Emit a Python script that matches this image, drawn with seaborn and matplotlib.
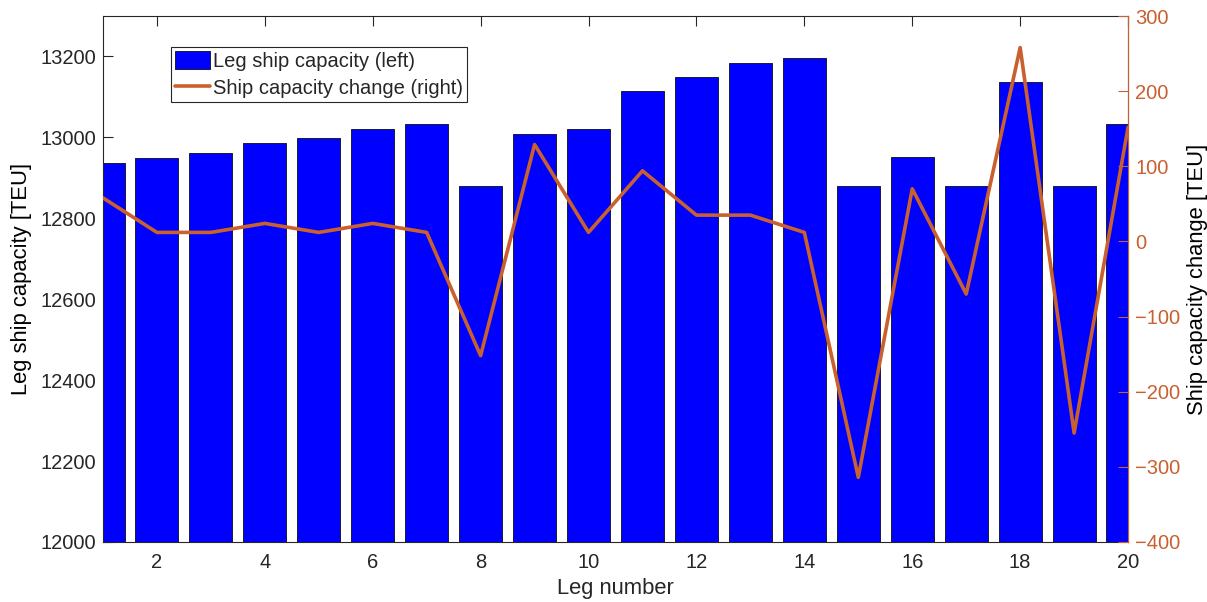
import matplotlib
matplotlib.use("Agg")
import matplotlib.pyplot as plt
import seaborn as sns
import pandas as pd
from matplotlib.patches import Patch
from matplotlib.lines import Line2D

# Leg-by-leg data
legs = list(range(1, 21))
leg_capacity = [12936, 12950, 12962, 12985, 12998, 13020, 13032, 12879, 13008, 13020,
                13115, 13149, 13185, 13197, 12879, 12951, 12879, 13137, 12879, 13032]
capacity_change = [58, 12, 12, 24, 12, 24, 12, -152, 129, 12,
                   94, 35, 35, 12, -314, 70, -70, 258, -255, 152]

left_ticks = [12000, 12200, 12400, 12600, 12800, 13000, 13200]
right_ticks = [-400, -300, -200, -100, 0, 100, 200, 300]
x_ticks = [2, 4, 6, 8, 10, 12, 14, 16, 18, 20]

bar_color = "#0000FF"
line_color = "#C8602F"
axis_color = "#262626"

sns.set_style("white")
plt.rcParams["font.family"] = ["Liberation Sans", "DejaVu Sans"]
fs = 14.5
lfs = 15.8

df = pd.DataFrame({"leg": legs, "capacity": leg_capacity, "change": capacity_change})

fig = plt.figure(figsize=(12.07, 6.02), dpi=100)
ax = fig.add_axes([0.0853, 0.0997, 0.8493, 0.8737])

sns.barplot(data=df, x="leg", y="capacity", native_scale=True, width=0.8,
            color=bar_color, saturation=1, edgecolor="#1a1a3a", linewidth=0.7, ax=ax)
ax.set_xlim(1, 20)
ax.set_ylim(12000, 13300)
ax.set_xticks(x_ticks)
ax.set_yticks(left_ticks)
ax.set_xlabel("Leg number", fontsize=lfs, color=axis_color, labelpad=4)
ax.set_ylabel("Leg ship capacity [TEU]", fontsize=lfs, color="black", labelpad=6)
ax.tick_params(axis="both", direction="in", labelsize=fs, colors=axis_color,
               length=7.5, width=0.8)
ax.tick_params(axis="x", pad=8, top=True)
ax.tick_params(axis="y", pad=5)
for side in ["left", "bottom", "top"]:
    ax.spines[side].set_color(axis_color)
    ax.spines[side].set_linewidth(0.8)

ax2 = ax.twinx()
sns.lineplot(data=df, x="leg", y="change", color=line_color, linewidth=2.6, ax=ax2)
ax2.set_ylim(-400, 300)
ax2.set_yticks(right_ticks)
ax2.set_xlim(1, 20)
ax2.set_ylabel("Ship capacity change [TEU]", fontsize=lfs, color="black", labelpad=5)
ax2.tick_params(axis="y", direction="in", labelsize=fs, colors=line_color,
                length=7.5, width=0.8, pad=5)
ax2.spines["right"].set_color(line_color)
ax2.spines["right"].set_linewidth(0.8)
for side in ["left", "bottom", "top"]:
    ax2.spines[side].set_visible(False)

handles = [Patch(facecolor=bar_color, edgecolor="#1a1a3a", linewidth=0.7),
           Line2D([0], [0], color=line_color, linewidth=2.6)]
labels = ["Leg ship capacity (left)", "Ship capacity change (right)"]
leg = ax2.legend(handles, labels, loc="upper left", bbox_to_anchor=(0.1417, 0.922),
                 bbox_transform=fig.transFigure, borderaxespad=0, fontsize=fs,
                 frameon=True, fancybox=False, framealpha=1, edgecolor=axis_color,
                 handlelength=1.75, handleheight=1.0, handletextpad=0.15,
                 borderpad=0.2, labelspacing=0.35)
leg.get_frame().set_linewidth(0.8)

fig.savefig("out.png", dpi=100)
